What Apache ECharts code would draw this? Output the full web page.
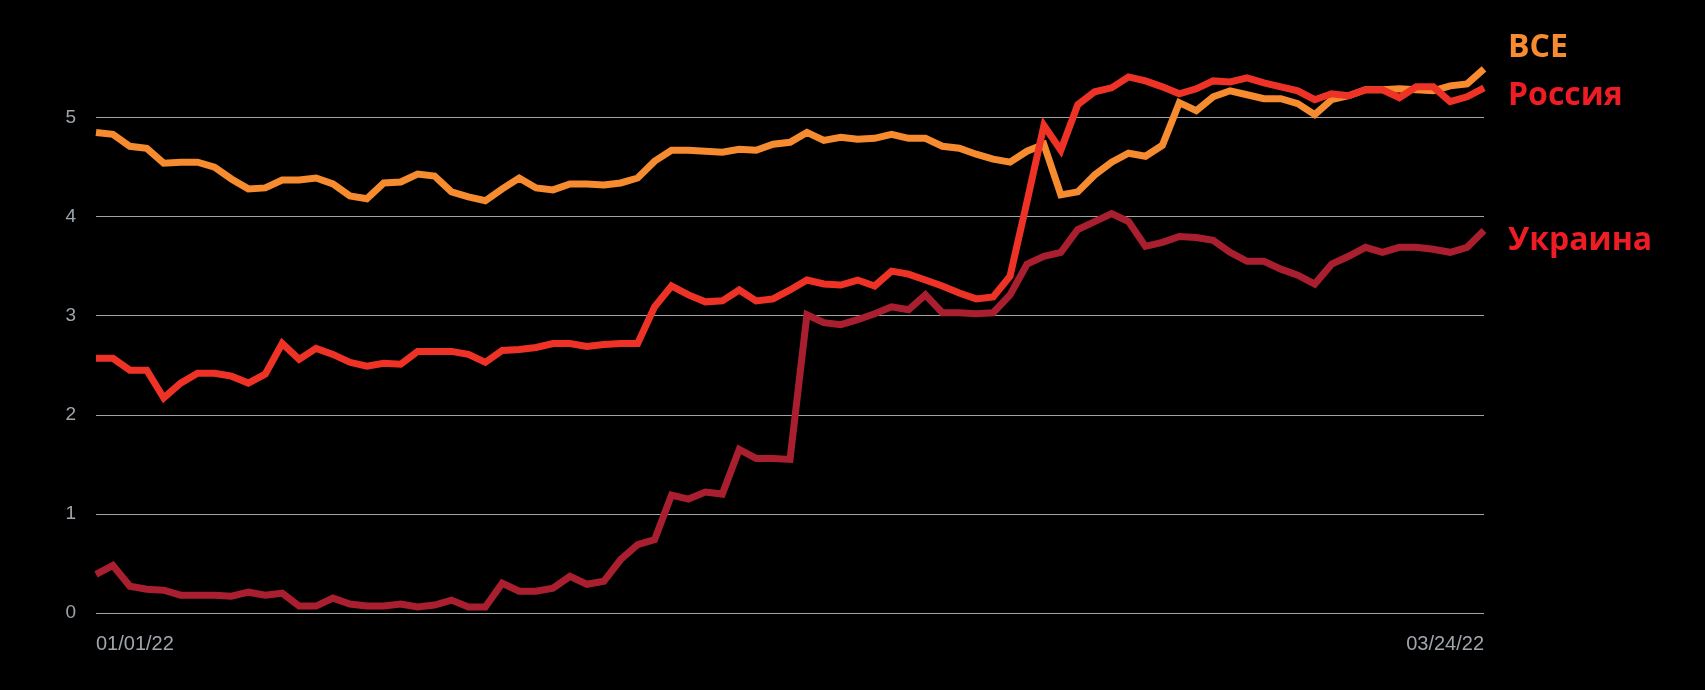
<!DOCTYPE html>
<html>
<head>
<meta charset="utf-8">
<script src="https://cdn.jsdelivr.net/npm/echarts@6/dist/echarts.min.js"></script>
<style>
  html, body { margin: 0; padding: 0; background: #000; }
  #chart { width: 1705px; height: 690px; }
</style>
</head>
<body>
<div id="chart"></div>
<script>
// ---- data ----
var startDate = '2022-01-01';
var dayCount = 83; // 01/01/22 .. 03/24/22
var xTickLabels = ['01/01/22', '03/24/22'];
var yTicks = [0, 1, 2, 3, 4, 5];

var seriesNames = ['ВСЕ', 'Россия', 'Украина'];

var allValues = [4.85, 4.83, 4.71, 4.69, 4.54, 4.55, 4.55, 4.50, 4.38, 4.28,
  4.29, 4.37, 4.37, 4.39, 4.33, 4.21, 4.18, 4.34, 4.35, 4.43,
  4.41, 4.25, 4.20, 4.16, 4.28, 4.39, 4.29, 4.27, 4.33, 4.33,
  4.32, 4.34, 4.39, 4.56, 4.67, 4.67, 4.66, 4.65, 4.68, 4.67,
  4.73, 4.75, 4.85, 4.77, 4.80, 4.78, 4.79, 4.83, 4.79, 4.79,
  4.71, 4.69, 4.63, 4.58, 4.55, 4.66, 4.73, 4.22, 4.25, 4.42,
  4.55, 4.64, 4.61, 4.72, 5.15, 5.07, 5.21, 5.27, 5.23, 5.19,
  5.19, 5.14, 5.03, 5.18, 5.22, 5.28, 5.28, 5.29, 5.28, 5.27,
  5.32, 5.34, 5.49];

var russiaValues = [2.57, 2.57, 2.45, 2.45, 2.17, 2.32, 2.42, 2.42, 2.39, 2.32,
  2.41, 2.72, 2.56, 2.67, 2.61, 2.53, 2.49, 2.52, 2.51, 2.64,
  2.64, 2.64, 2.61, 2.53, 2.65, 2.66, 2.68, 2.72, 2.72, 2.69,
  2.71, 2.72, 2.72, 3.09, 3.30, 3.21, 3.14, 3.15, 3.26, 3.15,
  3.17, 3.26, 3.36, 3.32, 3.31, 3.36, 3.30, 3.45, 3.42, 3.36,
  3.30, 3.23, 3.17, 3.19, 3.40, 4.15, 4.92, 4.67, 5.13, 5.26,
  5.30, 5.41, 5.37, 5.31, 5.24, 5.29, 5.37, 5.36, 5.40, 5.35,
  5.31, 5.27, 5.18, 5.24, 5.22, 5.28, 5.28, 5.20, 5.31, 5.31,
  5.16, 5.21, 5.30];

var ukraineValues = [0.39, 0.48, 0.27, 0.24, 0.23, 0.18, 0.18, 0.18, 0.17, 0.21,
  0.18, 0.20, 0.07, 0.07, 0.15, 0.09, 0.07, 0.07, 0.09, 0.06,
  0.08, 0.13, 0.06, 0.06, 0.30, 0.22, 0.22, 0.25, 0.37, 0.29,
  0.32, 0.54, 0.69, 0.74, 1.19, 1.15, 1.22, 1.20, 1.65, 1.56,
  1.56, 1.55, 3.01, 2.93, 2.91, 2.96, 3.02, 3.09, 3.06, 3.21,
  3.03, 3.03, 3.02, 3.03, 3.21, 3.52, 3.60, 3.64, 3.87, 3.95,
  4.03, 3.95, 3.70, 3.74, 3.80, 3.79, 3.76, 3.64, 3.55, 3.55,
  3.47, 3.41, 3.32, 3.52, 3.60, 3.69, 3.64, 3.69, 3.69, 3.67,
  3.64, 3.69, 3.86];

// ---- categories (daily dates) ----
var categories = [];
(function () {
  var d0 = new Date(startDate + 'T00:00:00Z');
  for (var i = 0; i < dayCount; i++) {
    var d = new Date(d0.getTime() + i * 86400000);
    var mm = String(d.getUTCMonth() + 1).padStart(2, '0');
    var dd = String(d.getUTCDate()).padStart(2, '0');
    var yy = String(d.getUTCFullYear()).slice(2);
    categories.push(mm + '/' + dd + '/' + yy);
  }
})();

var colAll = '#F68B30';
var colRussia = '#EE3326';
var colUkraine = '#A91F30';
var labelRed = '#EE1C25';

var chart = echarts.init(document.getElementById('chart'), null, { renderer: 'canvas' });

function lineSeries(name, data, color) {
  return {
    name: name,
    type: 'line',
    data: data,
    showSymbol: false,
    symbol: 'none',
    smooth: false,
    lineStyle: { color: color, width: 7, join: 'miter', miterLimit: 6, cap: 'butt' },
    emphasis: { disabled: true },
    silent: true
  };
}

chart.setOption({
  backgroundColor: '#000000',
  animation: false,
  grid: { left: 96, right: 221, top: 68, bottom: 77, containLabel: false, outerBoundsMode: 'none' },
  xAxis: {
    type: 'category',
    data: categories,
    boundaryGap: false,
    axisLine: { show: false },
    axisTick: { show: false },
    splitLine: { show: false },
    axisLabel: {
      interval: function (idx, val) { return xTickLabels.indexOf(val) >= 0; },
      color: '#9fa5ad',
      fontFamily: 'Liberation Sans, Arial, sans-serif',
      fontSize: 20,
      margin: 21,
      alignMinLabel: 'left',
      alignMaxLabel: 'right',
      showMinLabel: true,
      showMaxLabel: true
    }
  },
  yAxis: {
    type: 'value',
    min: yTicks[0],
    max: 5.5,
    interval: 1,
    axisLine: { show: false },
    axisTick: { show: false },
    axisLabel: {
      color: '#9fa5ad',
      fontFamily: 'Liberation Sans, Arial, sans-serif',
      fontSize: 19,
      margin: 20,
      showMaxLabel: false,
      formatter: function (v) { return yTicks.indexOf(v) >= 0 ? String(v) : ''; }
    },
    splitLine: { show: true, showMaxLine: false, lineStyle: { color: '#a3a3a3', width: 1 } }
  },
  series: [
    lineSeries(seriesNames[2], ukraineValues, colUkraine),
    lineSeries(seriesNames[0], allValues, colAll),
    lineSeries(seriesNames[1], russiaValues, colRussia)
  ],
  graphic: [
    { type: 'text', left: 1508, top: 32, style: { text: seriesNames[0], fill: colAll, font: 'bold 32px "Open Sans", "Noto Sans", sans-serif' } },
    { type: 'text', left: 1508, top: 80, style: { text: seriesNames[1], fill: labelRed, font: 'bold 32px "Open Sans", "Noto Sans", sans-serif' } },
    { type: 'text', left: 1508, top: 225, style: { text: seriesNames[2], fill: labelRed, font: 'bold 32px "Open Sans", "Noto Sans", sans-serif' } }
  ]
});
</script>
</body>
</html>
